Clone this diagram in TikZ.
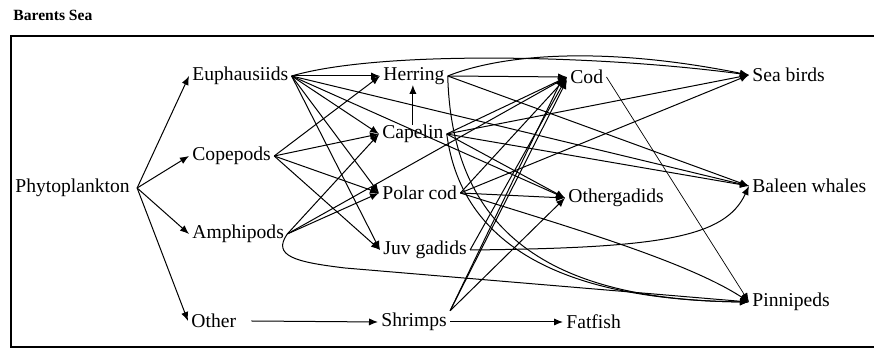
\documentclass[tikz,border=0pt]{standalone}
\usepackage{fontspec}
\setmainfont{Liberation Serif}
\usetikzlibrary{arrows.meta}
\begin{document}
\begin{tikzpicture}[x=0.5pt,y=-0.5pt,
 sp/.style={anchor=west,inner xsep=1.5pt,inner ysep=0pt,font=\fontsize{9.8}{11}\selectfont},
 ln/.style={line width=0.5pt},
 ar/.style={ln,-{Latex[length=4.5pt,width=3.6pt]}},
]
\useasboundingbox (0,0) rectangle (874,351);
\node[anchor=west,inner sep=0pt,font=\bfseries\fontsize{7.8}{9}\selectfont] (title) at (13,15) {Barents Sea};
\draw[line width=0.9pt] (874,36) -- (11,36) -- (11,347) -- (874,347);

\node[sp] (phy) at (12,188) {Phytoplankton};
\node[sp] (eup) at (189,76) {Euphausiids};
\node[sp] (cop) at (189,156) {Copepods};
\node[sp] (amp) at (189,234) {Amphipods};
\node[sp] (oth) at (188,321) {Other};
\node[sp] (her) at (380,76) {Herring};
\node[sp] (cap) at (379,134) {Capelin};
\node[sp] (pol) at (379,193) {Polar cod};
\node[sp] (juv) at (380,250) {Juv gadids};
\node[sp] (shr) at (378,322) {Shrimps};
\node[sp] (cod) at (567,77) {Cod};
\node[sp] (ogd) at (565,198) {Othergadids};
\node[sp] (fat) at (563,322) {Fatfish};
\node[sp] (sea) at (749,75) {Sea birds};
\node[sp] (bal) at (749,186) {Baleen whales};
\node[sp] (pin) at (749,302) {Pinnipeds};
\coordinate (shrtop) at ([yshift=1pt]shr.north east);

% primary producers
\foreach \t in {eup,cop,amp,oth} \draw[ar] ([xshift=2pt]phy.east) -- (\t.west);
\draw[ar] ([xshift=6pt]oth.east) -- (shr.west);
\draw[ar] (shr.east) -- (fat.west);

% Euphausiids
\foreach \t in {her,cap,pol,juv,ogd,bal} \draw[ar] (eup.east) -- (\t.west);
\draw[ar] (eup.east) .. controls (380,50) and (600,55) .. (sea.west);
% Copepods
\foreach \t in {her,cap,pol,juv} \draw[ar] (cop.east) -- (\t.west);
% Amphipods
\foreach \t in {cap,pol,cod} \draw[ar] (amp.east) -- (\t.west);
\draw[ar] (amp.east) .. controls (272,256) and (295,262) .. (345,268) -- (pin.west);
% Herring
\foreach \t in {cod,bal} \draw[ar] (her.east) -- (\t.west);
\draw[ar] (her.east) .. controls (500,55) and (600,45) .. (sea.west);
\draw[ar] (her.east) .. controls (452,240) and (560,300) .. (pin.west);
% Capelin
\draw[ar] (cap.north) -- (cap.north |- her.south);
\foreach \t in {cod,sea,bal,ogd} \draw[ar] (cap.east) -- (\t.west);
\draw[ar] (cap.east) .. controls (462,250) and (570,300) .. (pin.west);
% Polar cod
\foreach \t in {cod,sea,ogd} \draw[ar] (pol.east) -- (\t.west);
\draw[ar] (pol.east) .. controls (555,223) and (685,260) .. (pin.west);
% Juv gadids
\draw[ar] (juv.east) -- (cod.west);
\draw[ar] (juv.east) .. controls (660,248) and (725,238) .. (bal.west);
% Shrimps
\draw[ar] (shrtop) -- (ogd.west);
\draw[ar] (shrtop) -- ([xshift=-2pt]cod.west);
\draw[ar] (shrtop) -- ([yshift=-1.5pt]cod.west);
% Cod
\draw[ar,line width=0.35pt] (cod.east) -- (pin.west);
\end{tikzpicture}
\end{document}
